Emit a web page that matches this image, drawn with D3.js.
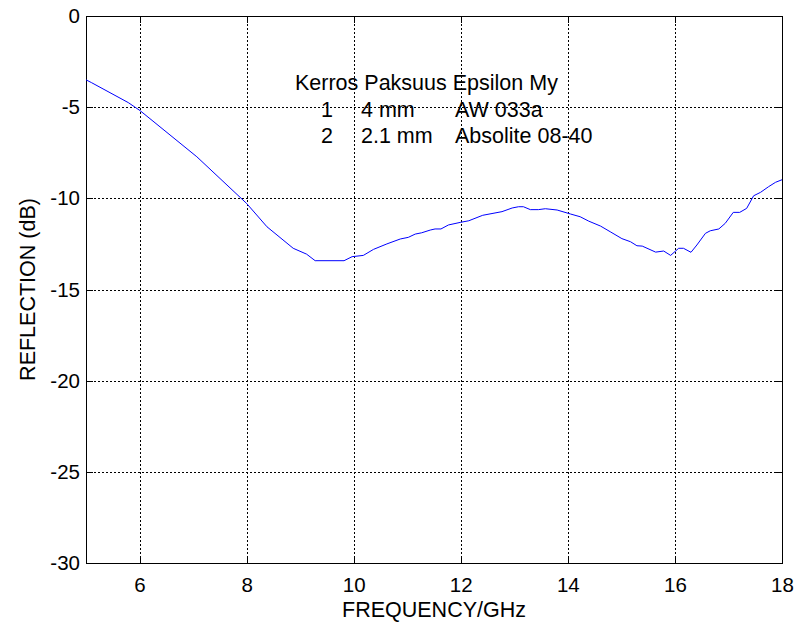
<!DOCTYPE html>
<html>
<head>
<meta charset="utf-8">
<script src="https://cdn.jsdelivr.net/npm/d3@7"></script>
<style>
  body { margin: 0; background: #fff; }
  svg text { font-family: "Liberation Sans", Arial, sans-serif; fill: #000; }
</style>
</head>
<body>
<div id="chart"></div>
<script>
// mitattu heijastus
let freq = [5.00, 5.10, 5.79, 6.01, 7.07, 8.00, 8.38, 8.87, 9.12, 9.28, 9.82, 9.97,
    10.18, 10.37, 10.62, 10.87, 11.02, 11.15, 11.27, 11.43, 11.52, 11.63, 11.77, 11.99,
    12.15, 12.41, 12.77, 12.96, 13.08, 13.17, 13.30, 13.45, 13.58, 13.80, 14.05, 14.23,
    14.39, 14.61, 14.79, 15.01, 15.17, 15.29, 15.39, 15.64, 15.79, 15.92, 16.07, 16.16,
    16.30, 16.41, 16.57, 16.66, 16.82, 16.94, 17.09, 17.21, 17.34, 17.47, 17.60, 17.75,
    17.88, 18.00];
let refl = [-3.50, -3.65, -4.75, -5.19, -7.72, -10.28, -11.56, -12.74, -13.06, -13.42, -13.42, -13.20,
    -13.13, -12.80, -12.50, -12.23, -12.14, -11.96, -11.89, -11.74, -11.68, -11.68, -11.46, -11.32,
    -11.23, -10.93, -10.73, -10.53, -10.46, -10.46, -10.62, -10.62, -10.57, -10.64, -10.86, -11.01,
    -11.25, -11.52, -11.83, -12.21, -12.38, -12.60, -12.62, -12.95, -12.89, -13.13, -12.74, -12.74,
    -12.96, -12.56, -11.92, -11.78, -11.68, -11.37, -10.77, -10.77, -10.55, -9.86, -9.67, -9.36,
    -9.12, -8.98];

let xTicks = [6, 8, 10, 12, 14, 16, 18];
let yTicks = [0, -5, -10, -15, -20, -25, -30];

//selite
let legendHeader = 'Kerros Paksuus Epsilon My';
let layerNo = ['1', '2'];
let thickness = ['4 mm', '2.1 mm'];
let material = ['AW 033a', 'Absolite 08-40'];

let width = 794, height = 622;
let pLeft = 86, pRight = 782, pTop = 16, pBottom = 563;
let tickLen = 7;

let svg = d3.select('#chart')
    .append('svg')
    .attr('width', width)
    .attr('height', height);

let x = d3.scaleLinear().domain([5, 18]).range([pLeft, pRight]);
let y = d3.scaleLinear().domain([-30, 0]).range([pBottom, pTop]);

//ruudukko
let grid = svg.append('g')
    .attr('stroke', '#000')
    .attr('stroke-width', 1)
    .attr('stroke-dasharray', '2,2')
    .attr('shape-rendering', 'crispEdges');
grid.selectAll('.gx')
    .data(xTicks.filter(d => d < 18))
    .enter().append('line')
    .attr('x1', d => Math.round(x(d)) + 0.5)
    .attr('x2', d => Math.round(x(d)) + 0.5)
    .attr('y1', pTop)
    .attr('y2', pBottom);
grid.selectAll('.gy')
    .data(yTicks.filter(d => d > -30 && d < 0))
    .enter().append('line')
    .attr('x1', pLeft)
    .attr('x2', pRight)
    .attr('y1', d => Math.round(y(d)) + 0.5)
    .attr('y2', d => Math.round(y(d)) + 0.5);

//akselit (sisäänpäin)
let fmt = d => String(d);
let axB = d3.axisBottom(x).tickValues(xTicks).tickSize(-tickLen).tickPadding(14).tickFormat(fmt);
let axT = d3.axisTop(x).tickValues(xTicks).tickSize(-tickLen).tickFormat('');
let axL = d3.axisLeft(y).tickValues(yTicks).tickSize(-tickLen).tickPadding(6).tickFormat(fmt);
let axR = d3.axisRight(y).tickValues(yTicks).tickSize(-tickLen).tickFormat('');

function style_axis(g) {
    g.select('.domain').remove();
    g.selectAll('line').attr('stroke', '#000').attr('shape-rendering', 'crispEdges');
    g.selectAll('text').style('font-size', '20.5px').attr('fill', '#000');
}

svg.append('g').attr('transform', `translate(0,${pBottom})`).call(axB).call(style_axis);
svg.append('g').attr('transform', `translate(0,${pTop})`).call(axT).call(style_axis);
svg.append('g').attr('transform', `translate(${pLeft},0)`).call(axL).call(style_axis);
svg.append('g').attr('transform', `translate(${pRight},0)`).call(axR).call(style_axis);

svg.append('rect')
    .attr('x', pLeft + 0.5)
    .attr('y', pTop + 0.5)
    .attr('width', pRight - pLeft)
    .attr('height', pBottom - pTop)
    .attr('fill', 'none')
    .attr('stroke', '#000')
    .attr('stroke-width', 1.3)
    .attr('shape-rendering', 'crispEdges');

//käyrä
let line = d3.line()
    .x((d, i) => x(freq[i]))
    .y(d => y(d));
svg.append('path')
    .datum(refl)
    .attr('d', line)
    .attr('fill', 'none')
    .attr('stroke', '#0000ff')
    .attr('stroke-width', 1);

//selite teksti
let leg = svg.append('g').style('font-size', '21.5px');
leg.append('text').attr('x', 295).attr('y', 90).text(legendHeader);
layerNo.forEach((d, i) => {
    let yy = 116.5 + i * 26;
    leg.append('text').attr('x', 327).attr('y', yy).attr('text-anchor', 'middle').text(d);
    leg.append('text').attr('x', 361).attr('y', yy).text(thickness[i]);
    leg.append('text').attr('x', 455).attr('y', yy).text(material[i]);
});

//akselien otsikot
svg.append('text')
    .attr('x', (pLeft + pRight) / 2)
    .attr('y', 617)
    .attr('text-anchor', 'middle')
    .style('font-size', '21.5px')
    .text('FREQUENCY/GHz');

svg.append('text')
    .attr('transform', `translate(35,${(pTop + pBottom) / 2}) rotate(-90)`)
    .attr('text-anchor', 'middle')
    .style('font-size', '21.5px')
    .text('REFLECTION (dB)');
</script>
</body>
</html>
